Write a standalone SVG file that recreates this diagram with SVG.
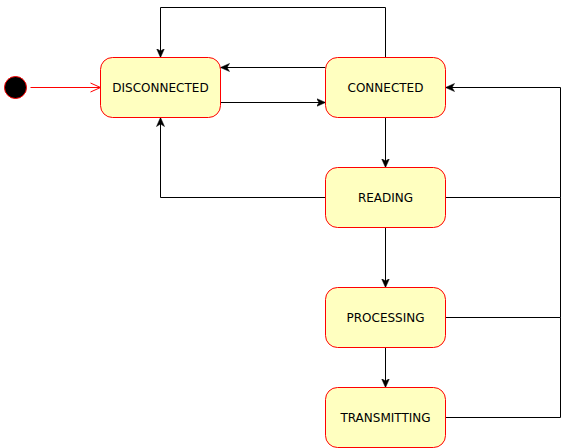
<svg xmlns="http://www.w3.org/2000/svg" width="569" height="448" viewBox="0 0 569 448">
<style>
.st rect{fill:#ffffc0;stroke:#ff0000;stroke-width:1}
.st text{font-family:"DejaVu Sans",Verdana,sans-serif;font-size:12px;fill:#000;text-anchor:middle;dominant-baseline:central}
.e{fill:none;stroke:#000;stroke-width:1}
</style>
<defs>
<marker id="a" viewBox="0 0 10 10" refX="9" refY="5" markerWidth="10" markerHeight="10" markerUnits="userSpaceOnUse" orient="auto">
<path d="M0,1 L9,5 L0,9 L2.5,5 Z" fill="#000" stroke="#000" stroke-width="0.5"/>
</marker>
<marker id="o" viewBox="0 0 12 12" refX="11" refY="6" markerWidth="12" markerHeight="12" markerUnits="userSpaceOnUse" orient="auto">
<path d="M1,1.5 L11,6 L1,10.5" fill="none" stroke="#ff0000" stroke-width="1"/>
</marker>
</defs>
<g transform="translate(0.5,0.5)">
<g id="start"><circle cx="15" cy="87" r="11" fill="#000" stroke="#ff0000"/></g>
<g id="edges">
<path class="e" d="M30,87 H100" style="stroke:#ff0000" marker-end="url(#o)"/>
<path class="e" d="M385,57 V7 H160 V57" marker-end="url(#a)"/>
<path class="e" d="M325,67 H220" marker-end="url(#a)"/>
<path class="e" d="M220,102 H325" marker-end="url(#a)"/>
<path class="e" d="M385,117 V167" marker-end="url(#a)"/>
<path class="e" d="M325,197 H160 V117" marker-end="url(#a)"/>
<path class="e" d="M385,227 V287" marker-end="url(#a)"/>
<path class="e" d="M385,347 V387" marker-end="url(#a)"/>
<path class="e" d="M445,197 H560 V87 H445" marker-end="url(#a)"/>
<path class="e" d="M445,317 H560 V197"/>
<path class="e" d="M445,417 H560 V317"/>
</g>
<g id="disconnected" class="st"><rect x="100" y="57" width="120" height="60" rx="12"/><text x="160" y="87">DISCONNECTED</text></g>
<g id="connected" class="st"><rect x="325" y="57" width="120" height="60" rx="12"/><text x="385" y="87">CONNECTED</text></g>
<g id="reading" class="st"><rect x="325" y="167" width="120" height="60" rx="12"/><text x="385" y="197">READING</text></g>
<g id="processing" class="st"><rect x="325" y="287" width="120" height="60" rx="12"/><text x="385" y="317">PROCESSING</text></g>
<g id="transmitting" class="st"><rect x="325" y="387" width="120" height="60" rx="12"/><text x="385" y="417">TRANSMITTING</text></g>
</g>
</svg>
